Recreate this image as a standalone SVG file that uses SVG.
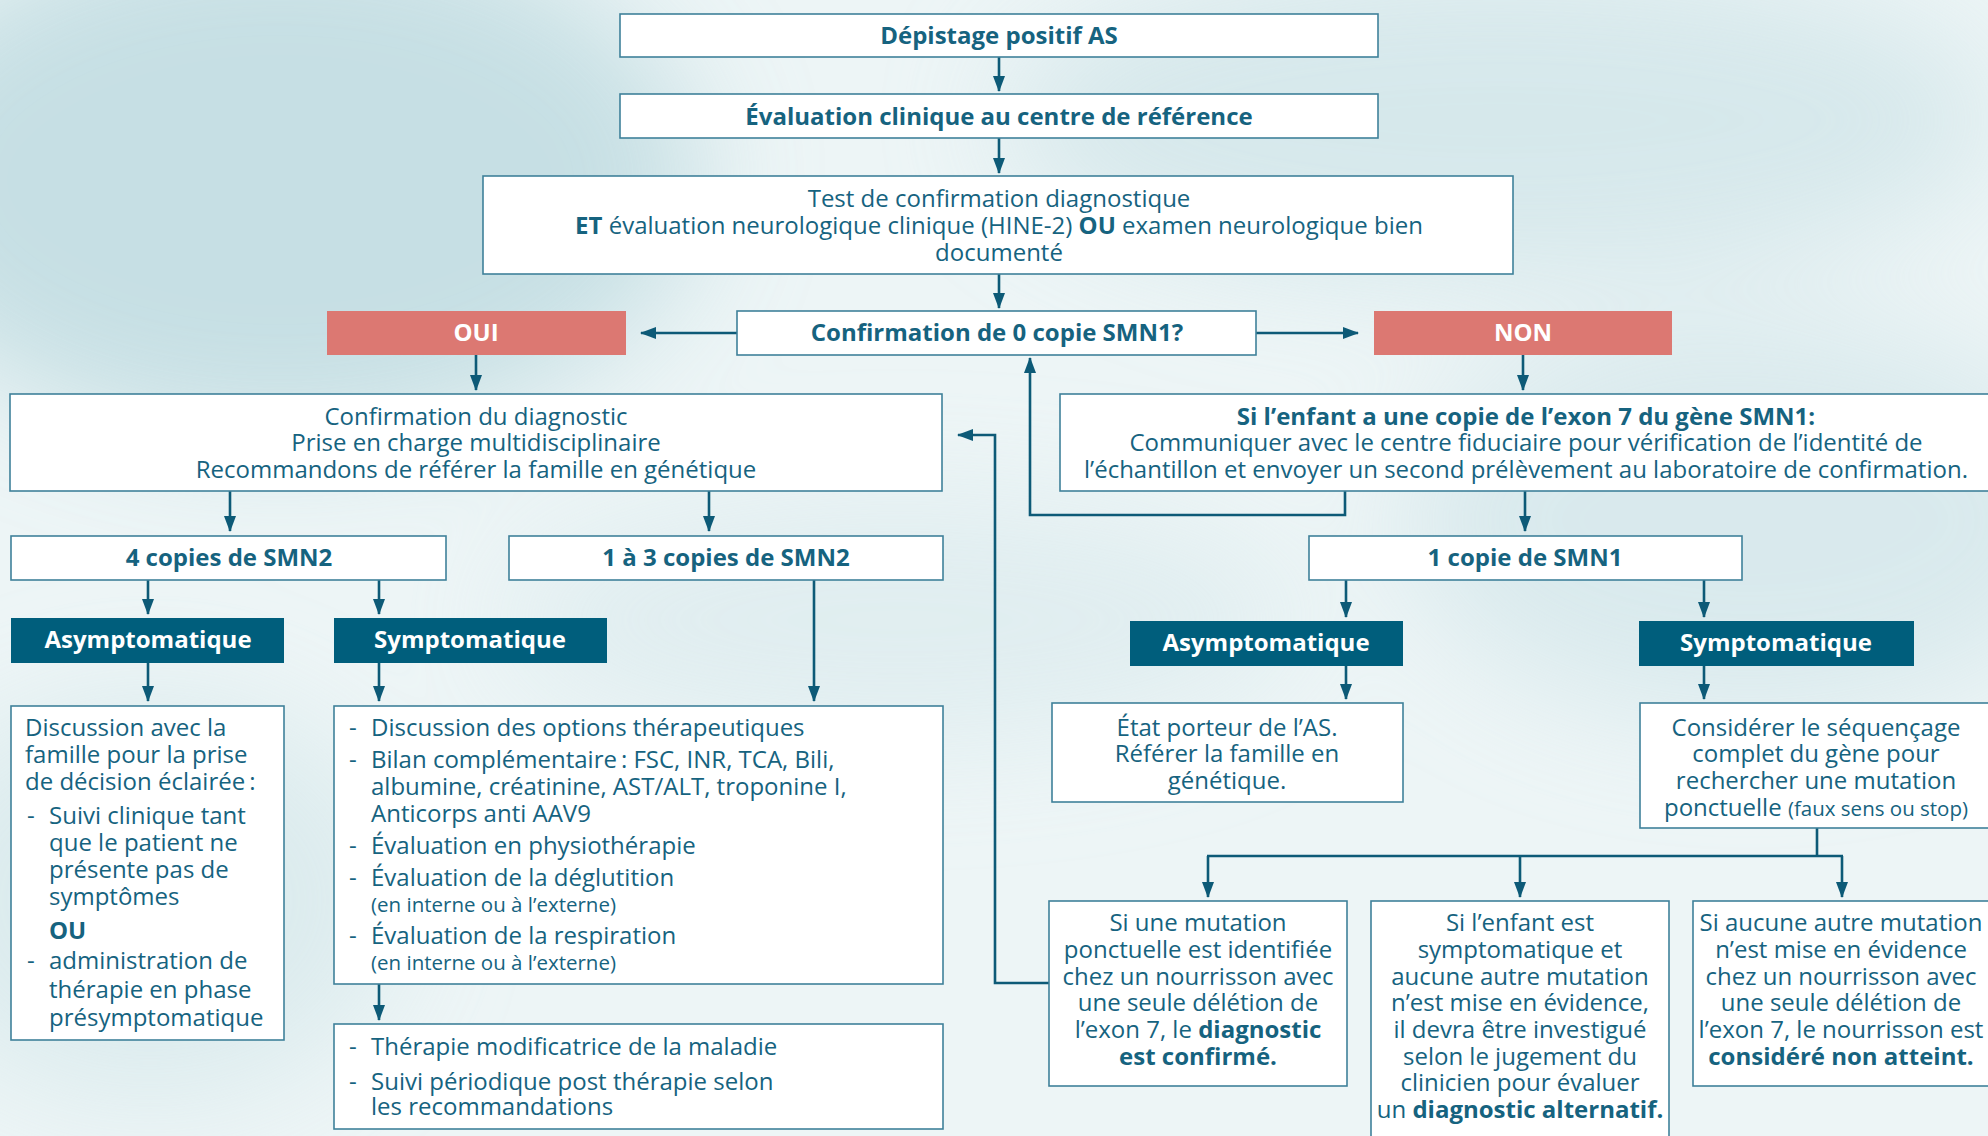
<svg xmlns="http://www.w3.org/2000/svg" width="1988" height="1136" viewBox="0 0 1988 1136">
<defs>
<style>
.t{font-family:"Open Sans","Liberation Sans",sans-serif;font-size:24px;fill:#16637f;}
.c{text-anchor:middle;}
.b{font-weight:bold;}
.w{fill:#ffffff;font-weight:bold;}
.s{font-size:20.5px;}
.box{fill:#ffffff;stroke:#3f819a;stroke-width:1.6;}
.red{fill:#dc7872;}
.dk{fill:#005e7c;}
.ln{fill:none;stroke:#0d5a77;stroke-width:2.6;}
.ar{marker-end:url(#ah);}
</style>
<marker id="ah" viewBox="0 0 16 12" markerWidth="16" markerHeight="12" refX="15" refY="6" orient="auto" markerUnits="userSpaceOnUse">
<path d="M0,0 L16,6 L0,12 z" fill="#0d5a77"/>
</marker>
<filter id="blur" x="-50%" y="-50%" width="200%" height="200%"><feGaussianBlur stdDeviation="60"/></filter>
</defs>
<g id="background">
<rect x="0" y="0" width="1988" height="1136" fill="#edf5f6"/>
<g filter="url(#blur)" opacity="0.75">
<ellipse cx="280" cy="180" rx="420" ry="260" fill="#b9d8de"/>
<ellipse cx="1500" cy="120" rx="500" ry="160" fill="#cfe4e8"/>
<ellipse cx="1750" cy="520" rx="350" ry="200" fill="#d3e6ea"/>
<ellipse cx="900" cy="620" rx="400" ry="120" fill="#dcebee"/>
<ellipse cx="150" cy="900" rx="250" ry="200" fill="#d6e8eb"/>
</g>
</g>

<g id="connectors">
<line class="ln ar" x1="999" y1="57" x2="999" y2="91"/>
<line class="ln ar" x1="999" y1="138" x2="999" y2="173"/>
<line class="ln ar" x1="999" y1="274" x2="999" y2="308"/>
<line class="ln ar" x1="737" y1="333" x2="641" y2="333"/>
<line class="ln ar" x1="1256" y1="333" x2="1358" y2="333"/>
<line class="ln ar" x1="476" y1="355" x2="476" y2="390"/>
<line class="ln ar" x1="1523" y1="355" x2="1523" y2="390"/>
<line class="ln ar" x1="230" y1="491" x2="230" y2="531"/>
<line class="ln ar" x1="709" y1="491" x2="709" y2="531"/>
<line class="ln ar" x1="148" y1="580" x2="148" y2="614"/>
<line class="ln ar" x1="379" y1="580" x2="379" y2="614"/>
<line class="ln ar" x1="148" y1="663" x2="148" y2="701"/>
<line class="ln ar" x1="379" y1="663" x2="379" y2="701"/>
<line class="ln ar" x1="814" y1="580" x2="814" y2="701"/>
<line class="ln ar" x1="379" y1="984" x2="379" y2="1020"/>
<line class="ln ar" x1="1525" y1="491" x2="1525" y2="531"/>
<line class="ln ar" x1="1346" y1="580" x2="1346" y2="617"/>
<line class="ln ar" x1="1704" y1="580" x2="1704" y2="617"/>
<line class="ln ar" x1="1346" y1="666" x2="1346" y2="699"/>
<line class="ln ar" x1="1704" y1="666" x2="1704" y2="699"/>
<polyline class="ln" points="1817,828 1817,856"/>
<polyline class="ln" points="1207,856 1843,856"/>
<line class="ln ar" x1="1208" y1="856" x2="1208" y2="897"/>
<line class="ln ar" x1="1520" y1="856" x2="1520" y2="897"/>
<line class="ln ar" x1="1842" y1="856" x2="1842" y2="897"/>
<polyline class="ln ar" points="1345,491 1345,515 1030,515 1030,358"/>
<polyline class="ln ar" points="1049,983 995,983 995,435 958,435"/>
</g>

<g id="n1">
<rect class="box" x="620" y="14" width="758" height="43"/>
<text class="t c b" x="999" y="44">Dépistage positif AS</text>
</g>
<g id="n2">
<rect class="box" x="620" y="94" width="758" height="44"/>
<text class="t c b" x="999" y="125">Évaluation clinique au centre de référence</text>
</g>
<g id="n3">
<rect class="box" x="483" y="176" width="1030" height="98"/>
<text class="t c" x="999" y="207">Test de confirmation diagnostique</text>
<text class="t c" x="999" y="234"><tspan class="b">ET</tspan> évaluation neurologique clinique (HINE-2) <tspan class="b">OU</tspan> examen neurologique bien</text>
<text class="t c" x="999" y="261">documenté</text>
</g>
<g id="n4">
<rect class="box" x="737" y="311" width="519" height="44"/>
<text class="t c b" x="997" y="341">Confirmation de 0 copie SMN1?</text>
</g>
<g id="oui">
<rect class="red" x="327" y="311" width="299" height="44"/>
<text class="t c w" x="476" y="341">OUI</text>
</g>
<g id="non">
<rect class="red" x="1374" y="311" width="298" height="44"/>
<text class="t c w" x="1523" y="341">NON</text>
</g>
<g id="n5">
<rect class="box" x="10" y="394" width="932" height="97"/>
<text class="t c" x="476" y="425">Confirmation du diagnostic</text>
<text class="t c" x="476" y="451">Prise en charge multidisciplinaire</text>
<text class="t c" x="476" y="478">Recommandons de référer la famille en génétique</text>
</g>
<g id="n6">
<rect class="box" x="1060" y="394" width="936" height="97"/>
<text class="t c b" x="1526" y="425">Si l’enfant a une copie de l’exon 7 du gène SMN1:</text>
<text class="t c" x="1526" y="451">Communiquer avec le centre fiduciaire pour vérification de l’identité de</text>
<text class="t c" x="1526" y="478">l’échantillon et envoyer un second prélèvement au laboratoire de confirmation.</text>
</g>
<g id="n7">
<rect class="box" x="11" y="536" width="435" height="44"/>
<text class="t c b" x="229" y="566">4 copies de SMN2</text>
</g>
<g id="n8">
<rect class="box" x="509" y="536" width="434" height="44"/>
<text class="t c b" x="726" y="566">1 à 3 copies de SMN2</text>
</g>
<g id="n9">
<rect class="dk" x="11" y="618" width="273" height="45"/>
<text class="t c w" x="148" y="648">Asymptomatique</text>
</g>
<g id="n10">
<rect class="dk" x="334" y="618" width="273" height="45"/>
<text class="t c w" x="470" y="648">Symptomatique</text>
</g>
<g id="n11">
<rect class="box" x="11" y="706" width="273" height="334"/>
<text class="t" x="25" y="736">Discussion avec la</text>
<text class="t" x="25" y="763">famille pour la prise</text>
<text class="t" x="25" y="790">de décision éclairée&#8201;:</text>
<text class="t" x="27" y="824">-</text>
<text class="t" x="49" y="824">Suivi clinique tant</text>
<text class="t" x="49" y="851">que le patient ne</text>
<text class="t" x="49" y="878">présente pas de</text>
<text class="t" x="49" y="905">symptômes</text>
<text class="t b" x="49" y="939">OU</text>
<text class="t" x="27" y="969">-</text>
<text class="t" x="49" y="969">administration de</text>
<text class="t" x="49" y="998">thérapie en phase</text>
<text class="t" x="49" y="1026">présymptomatique</text>
</g>
<g id="n12">
<rect class="box" x="334" y="706" width="609" height="278"/>
<text class="t" x="349" y="736">-</text>
<text class="t" x="371" y="736">Discussion des options thérapeutiques</text>
<text class="t" x="349" y="768">-</text>
<text class="t" x="371" y="768">Bilan complémentaire&#8201;: FSC, INR, TCA, Bili,</text>
<text class="t" x="371" y="795">albumine, créatinine, AST/ALT, troponine I,</text>
<text class="t" x="371" y="822">Anticorps anti AAV9</text>
<text class="t" x="349" y="854">-</text>
<text class="t" x="371" y="854">Évaluation en physiothérapie</text>
<text class="t" x="349" y="886">-</text>
<text class="t" x="371" y="886">Évaluation de la déglutition</text>
<text class="t s" x="371" y="912">(en interne ou à l’externe)</text>
<text class="t" x="349" y="944">-</text>
<text class="t" x="371" y="944">Évaluation de la respiration</text>
<text class="t s" x="371" y="970">(en interne ou à l’externe)</text>
</g>
<g id="n13">
<rect class="box" x="334" y="1024" width="609" height="105"/>
<text class="t" x="349" y="1055">-</text>
<text class="t" x="371" y="1055">Thérapie modificatrice de la maladie</text>
<text class="t" x="349" y="1090">-</text>
<text class="t" x="371" y="1090">Suivi périodique post thérapie selon</text>
<text class="t" x="371" y="1115">les recommandations</text>
</g>
<g id="n14">
<rect class="box" x="1309" y="536" width="433" height="44"/>
<text class="t c b" x="1525" y="566">1 copie de SMN1</text>
</g>
<g id="n15">
<rect class="dk" x="1130" y="621" width="273" height="45"/>
<text class="t c w" x="1266" y="651">Asymptomatique</text>
</g>
<g id="n16">
<rect class="dk" x="1639" y="621" width="275" height="45"/>
<text class="t c w" x="1776" y="651">Symptomatique</text>
</g>
<g id="n17">
<rect class="box" x="1052" y="703" width="351" height="99"/>
<text class="t c" x="1227" y="736">État porteur de l’AS.</text>
<text class="t c" x="1227" y="762">Référer la famille en</text>
<text class="t c" x="1227" y="789">génétique.</text>
</g>
<g id="n18">
<rect class="box" x="1640" y="703" width="357" height="125"/>
<text class="t c" x="1816" y="736">Considérer le séquençage</text>
<text class="t c" x="1816" y="762">complet du gène pour</text>
<text class="t c" x="1816" y="789">rechercher une mutation</text>
<text class="t c" x="1816" y="816">ponctuelle <tspan class="s">(faux sens ou stop)</tspan></text>
</g>
<g id="n19">
<rect class="box" x="1049" y="901" width="298" height="185"/>
<text class="t c" x="1198" y="931">Si une mutation</text>
<text class="t c" x="1198" y="958">ponctuelle est identifiée</text>
<text class="t c" x="1198" y="985">chez un nourrisson avec</text>
<text class="t c" x="1198" y="1011">une seule délétion de</text>
<text class="t c" x="1198" y="1038">l’exon 7, le <tspan class="b">diagnostic</tspan></text>
<text class="t c b" x="1198" y="1065">est confirmé.</text>
</g>
<g id="n20">
<rect class="box" x="1371" y="901" width="298" height="245"/>
<text class="t c" x="1520" y="931">Si l’enfant est</text>
<text class="t c" x="1520" y="958">symptomatique et</text>
<text class="t c" x="1520" y="985">aucune autre mutation</text>
<text class="t c" x="1520" y="1011">n’est mise en évidence,</text>
<text class="t c" x="1520" y="1038">il devra être investigué</text>
<text class="t c" x="1520" y="1065">selon le jugement du</text>
<text class="t c" x="1520" y="1091">clinicien pour évaluer</text>
<text class="t c" x="1520" y="1118">un <tspan class="b">diagnostic alternatif.</tspan></text>
</g>
<g id="n21">
<rect class="box" x="1693" y="901" width="305" height="185"/>
<text class="t c" x="1841" y="931">Si aucune autre mutation</text>
<text class="t c" x="1841" y="958">n’est mise en évidence</text>
<text class="t c" x="1841" y="985">chez un nourrisson avec</text>
<text class="t c" x="1841" y="1011">une seule délétion de</text>
<text class="t c" x="1841" y="1038">l’exon 7, le nourrisson est</text>
<text class="t c b" x="1841" y="1065">considéré non atteint.</text>
</g>
</svg>
